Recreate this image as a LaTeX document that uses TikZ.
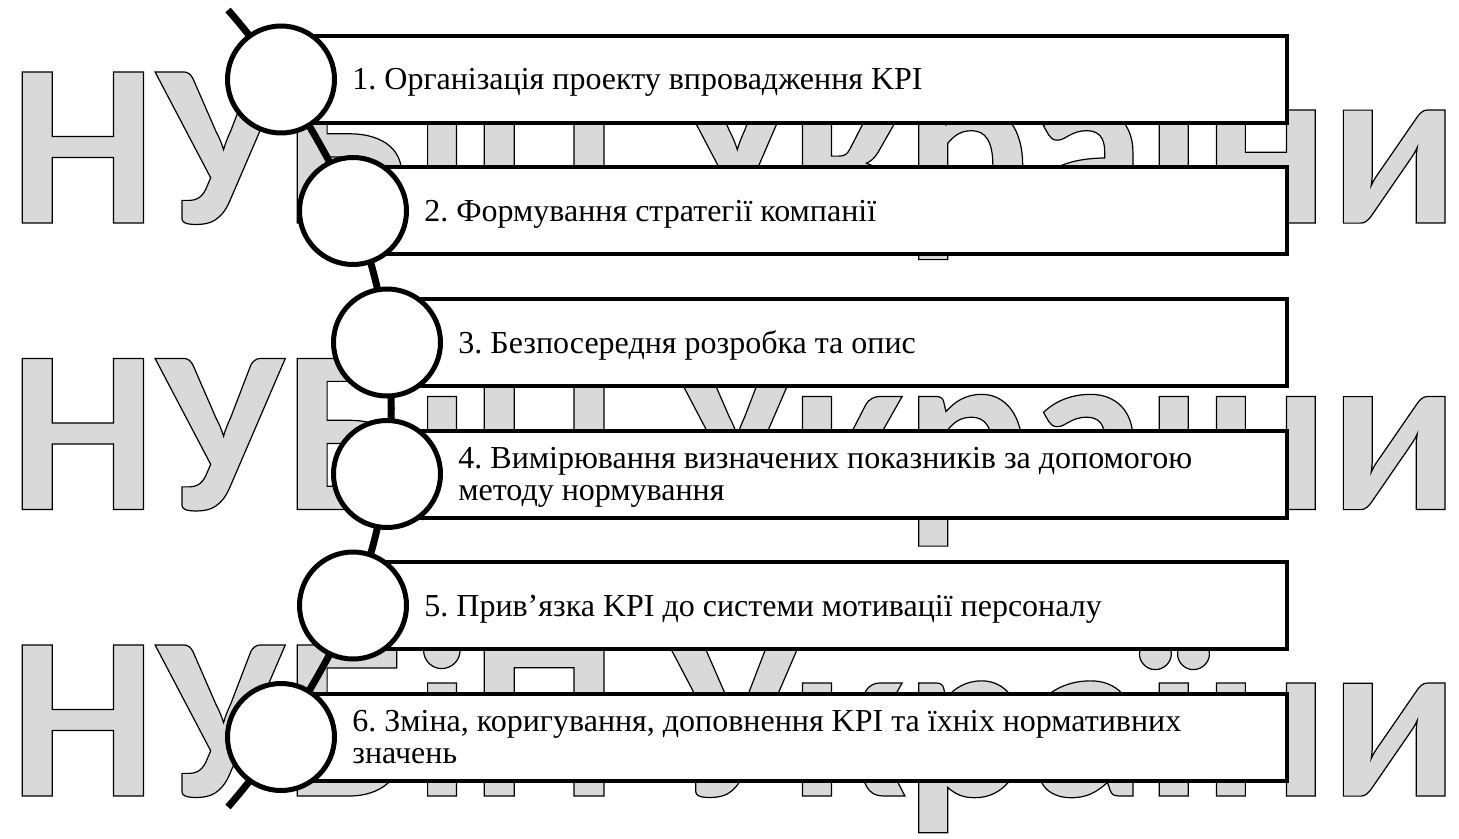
\documentclass[tikz,border=0pt]{standalone}
\usepackage{fontspec}
\setmainfont{Liberation Serif}
\newfontfamily\wmfont{Carlito}
\definecolor{wmgray}{RGB}{217,217,217}
\newcommand\wmoutline[1]{\special{pdf:literal direct 0 0 0 RG 0.6 w 2 Tr}#1\special{pdf:literal direct 0 Tr}}
\frenchspacing
\begin{document}
\begin{tikzpicture}[x=0.5pt,y=-0.5pt,
  box/.style={draw, line width=2pt, fill=white, inner sep=0pt, minimum height=43.5pt, anchor=west},
  circ/.style={circle, draw, line width=2.5pt, fill=white, minimum size=53.5pt, inner sep=0pt},
  lbl/.style={font=\fontsize{16}{15.75}\selectfont, inner sep=0pt, anchor=base west, align=left},
  wm/.style={font=\wmfont\bfseries\fontsize{116.5}{120}\selectfont, inner sep=0pt, anchor=base west, text=wmgray},
  spine/.style={line width=3.5pt}
]
\useasboundingbox (0,0) rectangle (1459,839);
% watermark
\node[wm] (wm1) at (9,223) {\wmoutline{НУБіП України}};
\node[wm] (wm2) at (9,509.5) {\wmoutline{НУБіП України}};
\node[wm] (wm3) at (9,796) {\wmoutline{НУБіП України}};
% anchor points
\coordinate (p1) at (281,79.5);
\coordinate (p2) at (353,211);
\coordinate (p3) at (387,342.5);
\coordinate (p4) at (387,474);
\coordinate (p5) at (353,605.5);
\coordinate (p6) at (281,737);
\coordinate (top) at (228,10);
\coordinate (bot) at (228,807);
% boxes
\node[box, minimum width=502pt] (b1) at (p1) {};
\node[box, minimum width=466pt] (b2) at (p2) {};
\node[box, minimum width=449pt] (b3) at (p3) {};
\node[box, minimum width=449pt] (b4) at (p4) {};
\node[box, minimum width=466pt] (b5) at (p5) {};
\node[box, minimum width=502pt] (b6) at (p6) {};
% spine
\draw[spine] plot[smooth, tension=0.6] coordinates {(top) (p1) (p2) (p3) (p4) (p5) (p6) (bot)};
% circles
\node[circ] (c1) at (p1) {};
\node[circ] (c2) at (p2) {};
\node[circ] (c3) at (p3) {};
\node[circ] (c4) at (p4) {};
\node[circ] (c5) at (p5) {};
\node[circ] (c6) at (p6) {};
% labels
\node[lbl] (t1) at (352,90) {1. Організація проекту впровадження KPI};
\node[lbl] (t2) at (424,221.5) {2. Формування стратегії компанії};
\node[lbl] (t3) at (458,353) {3. Безпосередня розробка та опис};
\node[lbl] (t4) at (458,500.25) {4. Вимірювання визначених показників за допомогою\\методу нормування};
\node[lbl] (t5) at (424,616) {5. Прив’язка KPI до системи мотивації персоналу};
\node[lbl] (t6) at (352,763.25) {6. Зміна, коригування, доповнення KPI та їхніх нормативних\\значень};
\end{tikzpicture}
\end{document}
